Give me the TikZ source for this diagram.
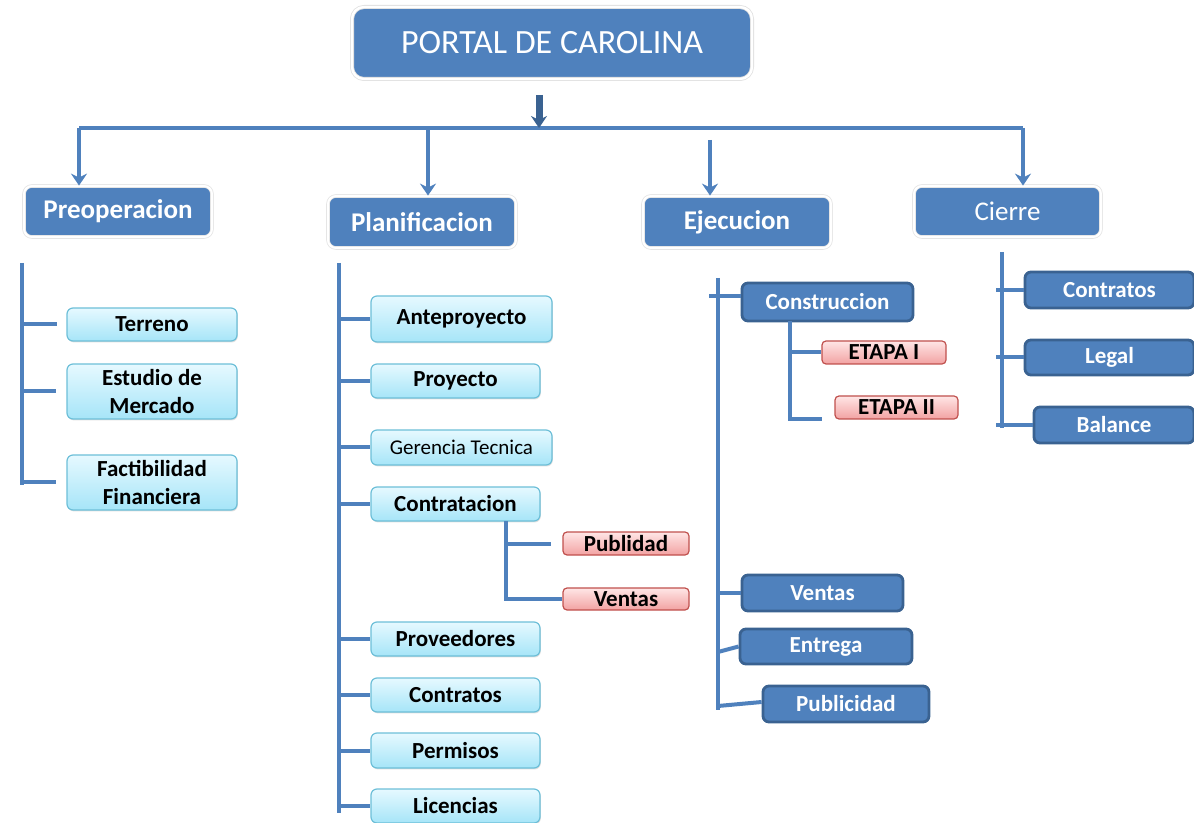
\documentclass[tikz,border=0pt]{standalone}
\usepackage{fontspec}
\setmainfont{Carlito}
\usetikzlibrary{arrows.meta,shadows}

\definecolor{azul}{HTML}{4F81BD}
\definecolor{azulosc}{HTML}{3A6291}
\definecolor{celTop}{HTML}{E6F9FF}
\definecolor{celBot}{HTML}{A6E5F8}
\definecolor{celEdge}{HTML}{6DBFD8}
\definecolor{rosaTop}{HTML}{FFE6E6}
\definecolor{rosaBot}{HTML}{F2A2A2}
\definecolor{rosaEdge}{HTML}{C0504D}

\tikzset{
  titulo/.style={rounded corners=6pt, fill=azul, draw=black!12, double=white,
    double distance=1.2pt, text=white, inner sep=0pt,
    font=\fontsize{17}{20}\selectfont},
  fase/.style={rounded corners=4pt, fill=azul, draw=black!10, double=white,
    double distance=1pt, text=white, inner sep=0pt,
    font=\fontsize{13.5}{16}\selectfont\bfseries},
  hoja/.style={rounded corners=3pt, top color=celTop, bottom color=celBot,
    draw=celEdge, line width=.6pt, inner sep=0pt, align=center,
    font=\fontsize{11.5}{14}\selectfont\bfseries,
    drop shadow={opacity=.25, shadow xshift=.4pt, shadow yshift=-.7pt}},
  subhoja/.style={rounded corners=2pt, top color=rosaTop, bottom color=rosaBot,
    draw=rosaEdge, line width=.6pt, inner sep=0pt,
    font=\fontsize{11.5}{14}\selectfont\bfseries},
  oscura/.style={rounded corners=3pt, fill=azul, draw=azulosc, line width=1.4pt,
    text=white, inner sep=0pt, font=\fontsize{11.5}{14}\selectfont\bfseries},
  rama/.style={draw=azul, line width=2pt},
  flecha/.style={rama, -{Stealth[length=6pt,width=8pt]}},
}

\begin{document}
\begin{tikzpicture}[x=0.5pt,y=-0.5pt]
  \useasboundingbox (0,0) rectangle (1194,823);

  \node[titulo, minimum width=200pt, minimum height=36pt] (tit) at (552,43) {PORTAL DE CAROLINA};

  \node[fase, minimum width=94pt, minimum height=25.5pt] (pre) at (118,211.5) {Preoperacion};
  \node[fase, minimum width=94pt, minimum height=26pt] (pla) at (422,222) {Planificacion};
  \node[fase, minimum width=94pt, minimum height=26pt] (eje) at (737,222) {Ejecucion};
  \node[fase, minimum width=93.5pt, minimum height=25.5pt, font=\fontsize{13.5}{16}\selectfont] (cie) at (1007.5,211.5) {Cierre};

  % barra superior
  \coordinate (t0) at (539,95);
  \coordinate (bL) at (79,128);
  \coordinate (b2) at (428,128);
  \coordinate (b3) at (710,140);
  \coordinate (bR) at (1023,128);
  \draw[rama] (bL) -- (bR);
  \draw[flecha, line width=3.5pt, draw=azulosc] (t0) -- (t0 |- bL);
  \draw[flecha] (bL) -- (bL |- pre.north);
  \draw[flecha] (b2) -- (b2 |- pla.north);
  \draw[flecha] (b3) -- (b3 |- eje.north);
  \draw[flecha] (bR) -- (bR |- cie.north);

  % Preoperacion
  \node[hoja, minimum width=85pt, minimum height=16.5pt] (ter) at (152,324.5) {Terreno};
  \node[hoja, minimum width=85pt, minimum height=27.5pt] (est) at (152,391.5) {Estudio de\\Mercado};
  \node[hoja, minimum width=85pt, minimum height=27.5pt] (fac) at (152,482.5) {Factibilidad\\Financiera};
  \coordinate (p1) at (22,263);
  \coordinate (p2) at (22,485);
  \draw[rama] (p1) -- (p2);
  \draw[rama, shorten >=4.5pt] (p1 |- ter.west) -- (ter.west);
  \draw[rama, shorten >=5pt] (p1 |- est.west) -- (est.west);
  \draw[rama, shorten >=5pt] (p1 |- fac.west) -- (fac.west);

  % Planificacion
  \node[hoja, minimum width=90.5pt, minimum height=23pt] (ant) at (461.5,319) {Anteproyecto};
  \node[hoja, minimum width=84.5pt, minimum height=17pt] (pro) at (455.5,381) {Proyecto};
  \node[hoja, minimum width=90.5pt, minimum height=17.5pt, font=\fontsize{10.5}{12}\selectfont] (ger) at (461.5,447.5) {Gerencia Tecnica};
  \node[hoja, minimum width=84.5pt, minimum height=17pt] (con) at (455.5,504) {Contratacion};
  \node[subhoja, minimum width=63pt, minimum height=11.5pt] (pub) at (626,543.5) {Publidad};
  \node[subhoja, minimum width=63pt, minimum height=11pt] (ven) at (626,599) {Ventas};
  \node[hoja, minimum width=84.5pt, minimum height=17pt] (prv) at (455.5,639) {Proveedores};
  \node[hoja, minimum width=84.5pt, minimum height=17pt] (ctr) at (455.5,695) {Contratos};
  \node[hoja, minimum width=84.5pt, minimum height=17.5pt] (per) at (455.5,750.5) {Permisos};
  \node[hoja, minimum width=84.5pt, minimum height=17pt] (lic) at (455.5,806) {Licencias};
  \coordinate (q1) at (339,263);
  \coordinate (q2) at (339,813);
  \draw[rama] (q1) -- (q2);
  \foreach \n in {ant,pro,ger,con,prv,ctr,per,lic}
    \draw[rama] (q1 |- \n.west) -- (\n.west);
  \coordinate (c1) at (506,521);
  \draw[rama] (c1) -- (c1 |- ven.west) -- (ven.west);
  \draw[rama, shorten >=5.5pt] (c1 |- pub.west) -- (pub.west);

  % Ejecucion
  \node[oscura, minimum width=85.5pt, minimum height=19pt] (cns) at (827.5,302) {Construccion};
  \node[subhoja, minimum width=62pt, minimum height=11.5pt] (et1) at (884,352.5) {ETAPA I};
  \node[subhoja, minimum width=61.5pt, minimum height=11.5pt] (et2) at (896.5,407.5) {ETAPA II};
  \node[oscura, minimum width=80.5pt, minimum height=18pt] (ve2) at (822.5,593) {Ventas};
  \node[oscura, minimum width=86pt, minimum height=17.5pt] (ent) at (826,646.5) {Entrega};
  \node[oscura, minimum width=83pt, minimum height=18pt] (pbl) at (846,704) {Publicidad};
  \coordinate (e1) at (718,278);
  \coordinate (e2) at (718,710);
  \coordinate (e0) at (709,296);
  \draw[rama] (e1) -- (e2);
  \draw[rama] (e0) -- (e0 -| cns.west);
  \coordinate (s1) at (790,321);
  \coordinate (s2) at (790,419);
  \draw[rama] (s1) -- (s1 |- et1.west) -- (et1.west);
  \draw[rama] (s1 |- et1.west) -- (s2) -- ++(16pt,0);
  \draw[rama] (e1 |- ve2.west) -- (ve2.west);
  \draw[rama] (718,652) -- (ent.west);
  \draw[rama] (718,706) -- ([yshift=1pt]pbl.west);

  % Cierre
  \node[oscura, minimum width=84.5pt, minimum height=18pt] (ct2) at (1109.5,290) {Contratos};
  \node[oscura, minimum width=84.5pt, minimum height=17.5pt] (leg) at (1109.5,357.5) {Legal};
  \node[oscura, minimum width=80pt, minimum height=18pt] (bal) at (1114,425) {Balance};
  \coordinate (r1) at (1002,252);
  \coordinate (r2) at (1002,428);
  \draw[rama] (r1) -- (r2);
  \foreach \n in {ct2,leg,bal}
    \draw[rama] ([xshift=-3pt]r1 |- \n.west) -- (\n.west);
\end{tikzpicture}
\end{document}
